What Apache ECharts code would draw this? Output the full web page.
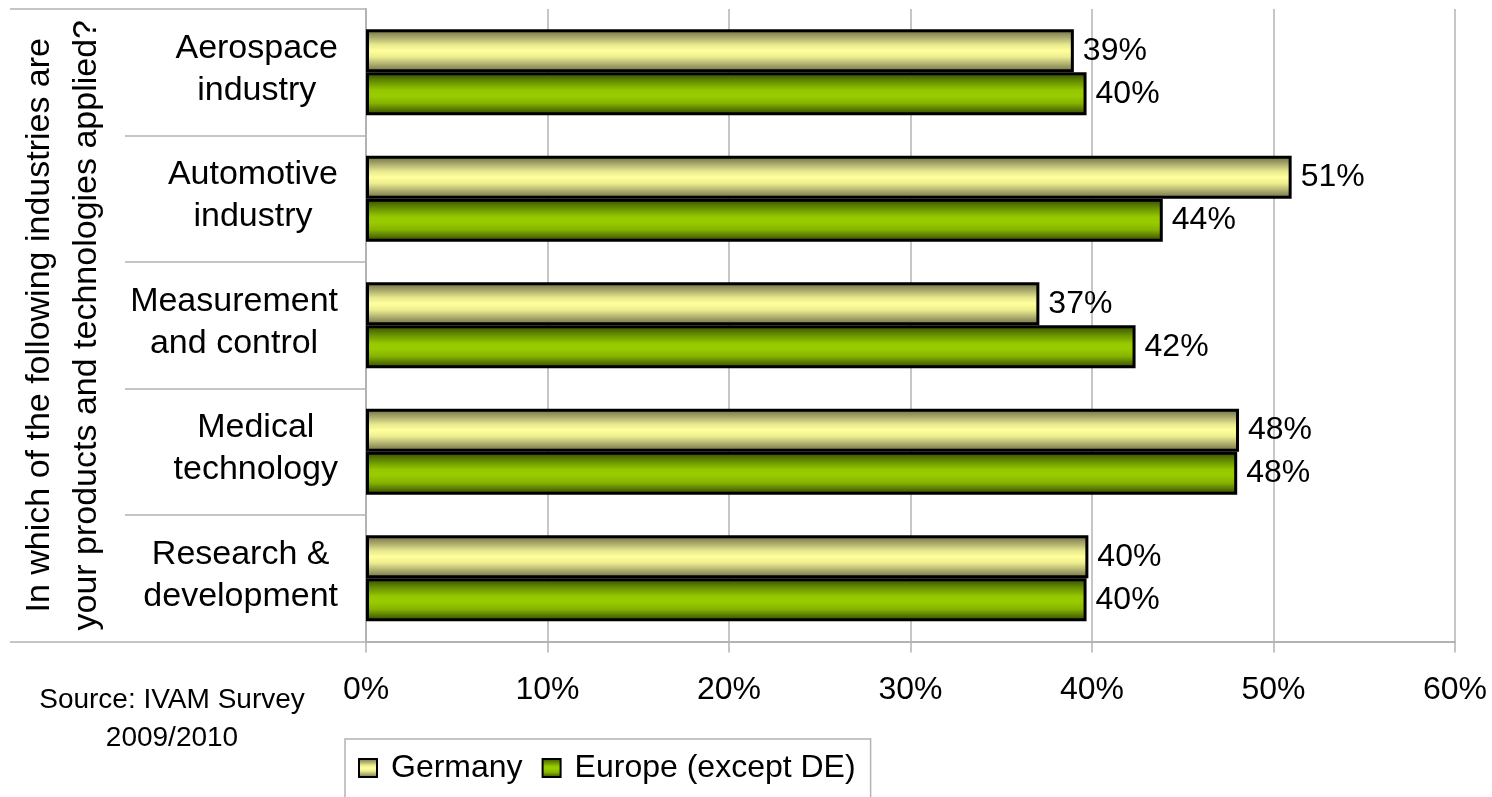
<!DOCTYPE html>
<html>
<head>
<meta charset="utf-8">
<title>Industries of application</title>
<script src="https://cdn.jsdelivr.net/npm/echarts@6/dist/echarts.min.js"></script>
<style>
  html, body { margin: 0; padding: 0; background: #ffffff; }
  #chart { width: 1492px; height: 797px; }
</style>
</head>
<body>
<div id="chart"></div>
<script>
// Industries named by the respondents (two-line labels)
const categories = [
  'Aerospace\nindustry',
  'Automotive\nindustry',
  'Measurement\nand control',
  'Medical\ntechnology',
  'Research &\ndevelopment'
];
// Share of respondents, in percent
const germany = [39.0, 51.0, 37.1, 48.1, 39.8];
const europe  = [39.7, 43.9, 42.4, 48.0, 39.7];
const seriesNames = ['Germany', 'Europe (except DE)'];
// Value axis range and step, in percent
const axisMin = 0;
const axisMax = 60;
const axisStep = 10;
const axisTitle = 'In which of the following industries are\nyour products and technologies applied?';
const sourceNote = 'Source: IVAM Survey\n2009/2010';

const FONT = '"Liberation Sans", Arial, sans-serif';
const GRID_GREY = '#b3b3b3';

const paleGradient = new echarts.graphic.LinearGradient(0, 0, 0, 1, [
  { offset: 0.00, color: '#6a6a40' },
  { offset: 0.18, color: '#a6a66a' },
  { offset: 0.36, color: '#e8e88e' },
  { offset: 0.50, color: '#ffff9c' },
  { offset: 0.64, color: '#eeee90' },
  { offset: 0.82, color: '#abab6e' },
  { offset: 1.00, color: '#6a6a40' }
]);
const greenGradient = new echarts.graphic.LinearGradient(0, 0, 0, 1, [
  { offset: 0.00, color: '#314600' },
  { offset: 0.22, color: '#689000' },
  { offset: 0.42, color: '#95c800' },
  { offset: 0.55, color: '#99cc00' },
  { offset: 0.72, color: '#86b300' },
  { offset: 0.88, color: '#537200' },
  { offset: 1.00, color: '#314600' }
]);

const chart = echarts.init(document.getElementById('chart'), null, { renderer: 'canvas' });

function barSeries(name, values, fill) {
  return {
    name: name,
    type: 'bar',
    data: values,
    barWidth: 43,
    barGap: '0%',
    itemStyle: { color: fill, borderColor: '#000000', borderWidth: 3 },
    label: {
      show: true,
      position: 'right',
      distance: 9,
      fontFamily: FONT,
      fontSize: 32,
      color: '#000000',
      formatter: p => Math.round(p.value) + '%'
    },
    emphasis: { disabled: true },
    animation: false
  };
}

chart.setOption({
  backgroundColor: '#ffffff',
  animation: false,
  textStyle: { fontFamily: FONT, color: '#000000' },
  grid: { left: 366, right: 37, top: 9, bottom: 155.5, containLabel: false },
  xAxis: {
    type: 'value',
    min: axisMin,
    max: axisMax,
    interval: axisStep,
    axisLine: { show: true, lineStyle: { color: GRID_GREY, width: 2 } },
    axisTick: { show: true, length: 11, lineStyle: { color: GRID_GREY, width: 1.5 } },
    splitLine: { show: true, lineStyle: { color: GRID_GREY, width: 1.5 } },
    axisLabel: {
      fontFamily: FONT,
      fontSize: 32,
      color: '#000000',
      margin: 33,
      formatter: '{value}%'
    }
  },
  yAxis: [
    {
      type: 'category',
      data: categories,
      inverse: true,
      position: 'left',
      axisLine: { show: true, lineStyle: { color: GRID_GREY, width: 2 } },
      axisTick: { show: true, length: 241, lineStyle: { color: GRID_GREY, width: 1.5 } },
      axisLabel: {
        margin: 28,
        formatter: v => v.split('\n').map(s => '{c|' + s + '}').join('\n'),
        rich: {
          c: { align: 'center', fontFamily: FONT, fontSize: 34, lineHeight: 42, color: '#000000' }
        },
        padding: [0, 0, 6, 0]
      },
      name: axisTitle,
      nameLocation: 'middle',
      nameRotate: 90,
      nameGap: 256,
      nameTextStyle: { fontFamily: FONT, fontSize: 34, lineHeight: 47, color: '#000000', align: 'center' }
    },
    {
      // outer frame lines at the top and bottom of the category column
      type: 'category',
      data: categories,
      inverse: true,
      position: 'left',
      axisLine: { show: false },
      axisLabel: { show: false },
      axisTick: { show: true, length: 356, interval: categories.length, lineStyle: { color: GRID_GREY, width: 1.5 } },
      splitLine: { show: false }
    }
  ],
  legend: {
    left: 345,
    top: 739,
    orient: 'horizontal',
    data: seriesNames,
    icon: 'rect',
    borderColor: GRID_GREY,
    borderWidth: 1.5,
    padding: [13, 15, 30, 13],
    itemGap: 19,
    itemWidth: 18,
    itemHeight: 18,
    itemStyle: { borderWidth: 2, borderColor: '#000000' },
    textStyle: { fontFamily: FONT, fontSize: 32, color: '#000000', padding: [0, 0, 0, 9] },
    selectedMode: false
  },
  graphic: [
    {
      type: 'text',
      x: 172,
      y: 681,
      silent: true,
      style: {
        text: sourceNote,
        align: 'center',
        verticalAlign: 'top',
        fontFamily: FONT,
        fontSize: 28,
        lineHeight: 38,
        fill: '#000000'
      }
    }
  ],
  series: [
    barSeries(seriesNames[0], germany, paleGradient),
    barSeries(seriesNames[1], europe, greenGradient)
  ]
});
</script>
</body>
</html>
